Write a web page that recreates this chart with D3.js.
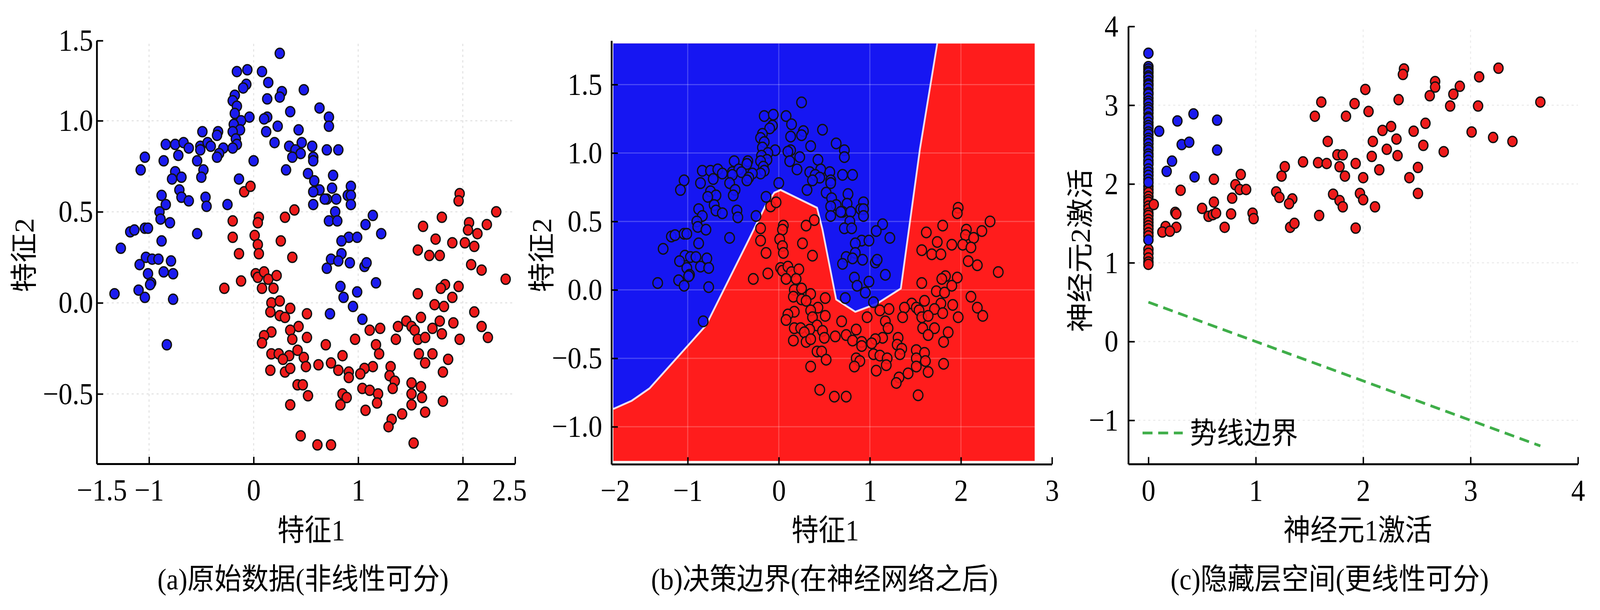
<!DOCTYPE html>
<html>
<head>
<meta charset="utf-8">
<script src="https://cdn.jsdelivr.net/npm/d3@7"></script>
<style>
  html, body { margin: 0; padding: 0; background: #fff; overflow: hidden; }
  #chart { display: block; width: 100vw; height: 100vh; }
</style>
</head>
<body>
<svg id="chart" viewBox="0 0 4498 1561" preserveAspectRatio="none"></svg>
<script>
// ---- data: two-moons input (panels a and b) ----
const moonsBlue = [
  [0.25,1.37],[-0.16,1.27],[-0.06,1.28],[0.08,1.27],[0.14,1.21],[-0.07,1.20],[-0.10,1.18],[0.48,1.17],[0.27,1.16],[0.25,1.13],
  [-0.18,1.14],[-0.20,1.11],[0.13,1.12],[-0.16,1.08],[0.35,1.05],[-0.18,1.04],[-0.04,1.02],[0.13,1.02],[0.10,1.01],[-0.12,1.00],
  [-0.19,0.98],[0.23,0.97],[0.12,0.94],[-0.13,0.95],[-0.20,0.94],[0.43,0.95],[-0.49,0.94],[-0.34,0.94],[-0.35,0.92],[0.20,0.88],
  [0.46,0.88],[-0.17,0.90],[-0.16,0.87],[-0.20,0.85],[0.34,0.86],[0.40,0.84],[0.45,0.82],[0.37,0.80],[-0.84,0.87],[-0.75,0.87],
  [-0.67,0.88],[-0.62,0.85],[-0.51,0.86],[-0.44,0.88],[-0.41,0.86],[-0.51,0.84],[-0.29,0.85],[-0.33,0.82],[-0.35,0.80],[-0.72,0.81],
  [-0.54,0.78],[-1.04,0.80],[-0.86,0.78],[0.00,0.78],[0.31,0.73],[-1.08,0.73],[-0.75,0.72],[-0.48,0.73],[-0.69,0.69],[-0.78,0.68],
  [-0.50,0.69],[-0.14,0.68],[-0.71,0.62],[-0.88,0.59],[-0.69,0.58],[-0.62,0.56],[-0.46,0.58],[-0.84,0.54],[-0.45,0.53],[-0.25,0.54],
  [-0.90,0.50],[-0.89,0.46],[-0.80,0.44],[-1.18,0.39],[-1.14,0.40],[-1.04,0.41],[-1.01,0.41],[-0.54,0.38],
  [-0.88,0.34],[-1.27,0.30],[-1.03,0.25],[-0.97,0.24],[-0.91,0.24],[-0.79,0.23],[-1.09,0.21],[-1.01,0.16],[-0.86,0.17],[-0.77,0.16],
  [-0.98,0.11],[-0.99,0.10],[-1.33,0.05],[-1.10,0.07],[-1.04,0.03],[-0.77,0.02],[-0.83,-0.23],
  [0.63,1.07],[0.72,1.02],[0.72,0.97],[0.56,0.86],[0.70,0.84],[0.81,0.84],[0.57,0.80],[0.57,0.78],[0.52,0.71],[0.76,0.70],
  [0.58,0.67],[0.63,0.62],[0.57,0.61],[0.75,0.63],[0.93,0.64],[0.70,0.57],[0.68,0.57],[0.79,0.57],[0.90,0.59],[0.93,0.59],
  [0.93,0.54],[0.57,0.54],[0.78,0.50],[0.72,0.45],[0.80,0.45],[1.14,0.48],[1.07,0.43],[1.22,0.38],
  [0.91,0.36],[0.99,0.36],[0.84,0.34],[0.84,0.27],[0.74,0.24],[0.81,0.23],[0.92,0.22],[1.06,0.20],[1.08,0.22],[0.70,0.19],
  [1.17,0.11],[0.83,0.09],[0.99,0.06],[0.86,0.03],[0.95,-0.02],[0.73,-0.06],[1.04,-0.09]
];
const moonsRed = [
  [-0.09,0.61],[-0.03,0.64],[0.39,0.51],[0.30,0.47],[-0.20,0.45],[0.05,0.47],[0.04,0.44],
  [-0.20,0.36],[0.01,0.37],[0.04,0.32],[0.05,0.27],[0.26,0.34],[-0.14,0.27],[0.37,0.25],[0.02,0.16],[0.04,0.14],[0.10,0.17],
  [0.14,0.13],[0.22,0.15],[-0.12,0.12],[-0.28,0.08],[0.08,0.08],[0.19,0.08],[0.17,0.00],[0.25,0.01],[0.35,-0.03],[0.16,-0.05],
  [0.25,-0.07],[0.30,-0.08],[0.51,-0.06],[0.43,-0.13],[0.35,-0.15],[0.17,-0.16],[0.10,-0.18],[0.51,-0.19],[0.08,-0.22],[0.37,-0.20],
  [0.42,-0.26],[0.17,-0.28],[0.24,-0.28],[0.34,-0.29],[0.28,-0.31],[0.48,-0.30],[0.50,-0.35],[0.16,-0.37],[0.30,-0.38],[0.35,-0.36],
  [0.42,-0.45],[0.47,-0.45],[0.52,-0.51],[0.35,-0.56],[0.45,-0.73],
  [1.97,0.60],[1.96,0.56],[2.32,0.50],[1.80,0.47],[2.06,0.44],[2.23,0.43],[1.62,0.42],[2.05,0.40],[2.14,0.38],
  [1.74,0.35],[1.90,0.33],[2.02,0.33],[2.11,0.31],[1.57,0.29],[1.68,0.26],[1.78,0.26],[2.08,0.21],[2.18,0.18],[2.41,0.13],
  [1.83,0.10],[1.79,0.08],[1.96,0.09],[1.57,0.05],[1.90,0.03],[1.73,-0.01],[1.82,-0.02],[2.11,-0.05],[1.60,-0.08],[1.46,-0.10],
  [1.78,-0.10],[1.91,-0.11],[1.38,-0.13],[1.51,-0.13],[1.11,-0.15],[1.21,-0.14],[1.54,-0.15],[1.71,-0.14],[2.18,-0.13],[1.80,-0.17],
  [1.57,-0.20],[1.64,-0.19],[0.97,-0.20],[1.36,-0.20],[1.97,-0.20],[2.24,-0.19],[0.69,-0.23],[1.17,-0.23],[1.20,-0.28],[1.58,-0.28],
  [1.71,-0.28],[0.85,-0.29],[1.86,-0.31],[1.64,-0.33],[0.62,-0.34],[0.74,-0.33],[1.14,-0.35],[1.06,-0.36],[1.31,-0.35],[0.81,-0.37],
  [0.91,-0.38],[1.02,-0.39],[1.81,-0.38],[0.91,-0.41],[1.30,-0.40],[1.35,-0.43],[1.51,-0.44],[1.33,-0.47],[1.60,-0.46],[1.04,-0.47],
  [1.11,-0.48],[1.19,-0.50],[0.85,-0.50],[0.89,-0.52],[0.83,-0.56],[1.51,-0.50],[1.61,-0.52],[1.81,-0.54],[1.18,-0.55],[1.51,-0.56],
  [1.07,-0.59],[1.64,-0.60],[1.42,-0.61],[1.32,-0.64],[1.29,-0.68],[1.53,-0.77],[0.61,-0.78],[0.74,-0.78]
];

// ---- decision boundary of panel b (blue above, red below) ----
const boundary = [
  [-1.97,-0.87],[-1.67,-0.81],[-1.42,-0.72],[-0.80,-0.26],[-0.35,0.34],[-0.15,0.61],[-0.05,0.71],[0.02,0.73],
  [0.42,0.60],[0.48,0.44],[0.63,-0.07],[0.84,-0.16],[1.08,-0.10],[1.34,0.01],[1.55,1.03],[1.74,1.80]
];
const fieldX = [-1.97, 2.81];
const fieldY = [-1.25, 1.80];

// ---- hidden layer activations (panel c) ----
const hiddenColumnBlue = [3.66,3.49,3.46,3.43,3.41,3.37,3.35,3.31,3.27,3.25,3.21,3.16,3.14,3.09,3.05,3.02,2.97,2.94,2.90,2.85,
  2.83,2.78,2.74,2.71,2.66,2.63,2.58,2.55,2.51,2.46,2.43,2.38,2.35,2.30,2.25,2.19,2.15,2.11,2.06,2.02,1.29];
const hiddenColumnRed = [2.27,1.97,1.93,1.89,1.84,1.80,1.77,1.72,1.68,1.63,1.60,1.55,1.51,1.47,1.43,1.38,1.34,1.17,1.12,1.06,1.01,0.98];
const hiddenBlue = [[0.10,2.67],[0.27,2.80],[0.42,2.89],[0.64,2.81],[0.31,2.50],[0.38,2.53],[0.64,2.43],[0.22,2.29],[0.17,2.16],[0.43,2.09]];
const hiddenRed = [
  [1.61,3.04],[1.55,2.86],[1.84,2.86],[1.67,2.54],[1.76,2.37],[1.81,2.37],[1.44,2.28],[1.58,2.27],[1.66,2.26],[1.78,2.22],
  [1.27,2.22],[1.24,2.10],[1.83,2.10],[0.86,2.12],[0.61,2.06],[0.81,1.99],[0.85,1.93],[0.91,1.93],[0.30,1.92],[1.19,1.90],
  [1.22,1.83],[1.34,1.81],[1.31,1.75],[1.72,1.87],[1.78,1.79],[1.81,1.71],[0.05,1.74],[0.61,1.77],[0.78,1.82],[0.50,1.69],
  [0.25,1.64],[0.26,1.62],[0.56,1.59],[0.60,1.61],[0.63,1.63],[0.77,1.62],[0.97,1.63],[0.98,1.56],[1.59,1.60],[0.16,1.46],
  [0.26,1.45],[0.13,1.39],[0.20,1.40],[0.71,1.45],[1.32,1.45],[1.36,1.50],
  [2.38,3.46],[2.37,3.39],[3.26,3.47],[3.08,3.36],[2.67,3.30],[2.67,3.23],[2.90,3.24],[2.02,3.20],[2.84,3.14],[2.62,3.12],
  [2.33,3.07],[1.92,3.02],[2.81,2.99],[3.07,2.99],[3.65,3.04],[2.05,2.92],[2.58,2.77],[2.26,2.73],[2.18,2.68],[2.47,2.67],
  [3.01,2.66],[2.31,2.57],[2.09,2.54],[3.21,2.59],[3.39,2.54],[2.56,2.49],[2.22,2.44],[2.75,2.41],[2.08,2.35],[2.32,2.36],
  [1.93,2.26],[2.51,2.21],[2.15,2.18],[2.00,2.08],[2.43,2.08],[1.97,1.88],[2.00,1.80],[2.51,1.88],[2.11,1.71],[1.93,1.44]
];
const guideX = [0, 3.65];
const guideY = [0.5, -1.325];

// ---- ticks and texts ----
const ticksAx = [-1.5, -1, 0, 1, 2, 2.5];
const ticksAy = [-0.5, 0, 0.5, 1.0, 1.5];
const ticksBx = [-2, -1, 0, 1, 2, 3];
const ticksBy = [-1.0, -0.5, 0, 0.5, 1.0, 1.5];
const ticksCx = [0, 1, 2, 3, 4];
const ticksCy = [-1, 0, 1, 2, 3, 4];
const gridAx = [-1, 0, 1, 2];
const gridAy = [-0.5, 0, 0.5, 1.0];
const gridCx = [1, 2, 3];
const gridCy = [-1, 0, 1, 2, 3];
const captions = ['(a)原始数据(非线性可分)', '(b)决策边界(在神经网络之后)', '(c)隐藏层空间(更线性可分)'];
const legendLabel = '势线边界';

const FONT = '"Liberation Serif", "Noto Sans CJK SC", serif';
const BLUE = '#1b1bef';
const RED = '#ee1b1b';

const minus = s => s.replace('-', '\u2212');
const fmtPlain = d => minus(String(d));
const fmtOne = d => minus(d.toFixed(1));

const svg = d3.select('#chart');

// scales (pixel ranges follow the reference layout)
const xA = d3.scaleLinear().domain([-1.5, 2.5]).range([272, 1448]);
const yA = d3.scaleLinear().domain([-0.884, 1.4, 1.5]).range([1187, 122.6, 104]);
const xB = d3.scaleLinear().domain([-2, -1.5, 3]).range([1719, 1805.4, 2957.4]);
const yB = d3.scaleLinear().domain([-1.274, 1.821]).range([1188, 104]);
const xC = d3.scaleLinear().domain([-0.187, 4]).range([3172, 4436]);
const yC = d3.scaleLinear().domain([-1.555, 4]).range([1187.5, 67.6]);

function drawGrid(g, x, y, xs, ys, color, dash) {
  g.selectAll(null).data(xs).enter().append('line')
    .attr('x1', d => x(d)).attr('x2', d => x(d))
    .attr('y1', y.range()[y.range().length - 1] + 8).attr('y2', y.range()[0])
    .attr('stroke', color).attr('stroke-width', 3).attr('stroke-dasharray', dash);
  g.selectAll(null).data(ys).enter().append('line')
    .attr('y1', d => y(d)).attr('y2', d => y(d))
    .attr('x1', x.range()[0]).attr('x2', x.range()[x.range().length - 1])
    .attr('stroke', color).attr('stroke-width', 3).attr('stroke-dasharray', dash);
}

function drawDots(g, pts, x, y, fill, r, opacity) {
  g.selectAll(null).data(pts).enter().append('circle')
    .attr('cx', d => x(d[0]))
    .attr('cy', d => y(d[1]))
    .attr('r', r)
    .attr('fill', fill)
    .attr('fill-opacity', opacity)
    .attr('stroke', '#111')
    .attr('stroke-width', 3.5);
}

function drawAxes(g, x, y, o) {
  const xAxis = d3.axisBottom(x).tickValues(o.xTicks).tickFormat(o.xFmt)
    .tickSizeInner(-18).tickSizeOuter(0).tickPadding(38);
  const yAxis = d3.axisLeft(y).tickValues(o.yTicks).tickFormat(o.yFmt)
    .tickSizeInner(-18).tickSizeOuter(0).tickPadding(o.yPad);
  const gx = g.append('g').attr('transform', `translate(0,${y.range()[0]})`).call(xAxis);
  const gy = g.append('g').attr('transform', `translate(${x.range()[0]},0)`).call(yAxis);
  [gx, gy].forEach(a => {
    a.attr('font-size', 78).attr('font-family', FONT);
    a.select('.domain').attr('stroke', '#000').attr('stroke-width', 5);
    a.selectAll('.tick line').attr('stroke', '#000').attr('stroke-width', 4);
    a.selectAll('.tick text').attr('fill', '#000');
  });
  gx.selectAll('.tick text').attr('dx', d => o.xShift[d] || 0);
  return gx;
}

function text(g, str, x, y, size, anchor, rotate) {
  const t = g.append('text')
    .attr('font-family', FONT)
    .attr('font-size', size)
    .attr('text-anchor', anchor)
    .attr('fill', '#000')
    .text(str);
  if (rotate) {
    t.attr('transform', `translate(${x},${y}) rotate(-90)`).attr('dy', '0.36em');
  } else {
    t.attr('x', x).attr('y', y);
  }
  return t;
}

// ---------- panel (a) ----------
const pa = svg.append('g');
drawGrid(pa, xA, yA, gridAx, gridAy, '#e4e4e4', '6,8');
drawDots(pa, moonsRed, xA, yA, RED, 13, 1);
drawDots(pa, moonsBlue, xA, yA, BLUE, 13, 1);
drawAxes(pa, xA, yA, { xTicks: ticksAx, yTicks: ticksAy, xFmt: fmtPlain, yFmt: fmtOne, yPad: 10, xShift: { '-1.5': 14, '2.5': -16 } });
text(pa, '特征1', 875, 1383, 76, 'middle');
text(pa, '特征2', 67, 653, 76, 'middle', true);
text(pa, captions[0], 852, 1508, 76, 'middle');

// ---------- panel (b) ----------
const pb = svg.append('g');
pb.append('rect')
  .attr('x', xB(fieldX[0])).attr('y', yB(fieldY[1]))
  .attr('width', xB(fieldX[1]) - xB(fieldX[0]))
  .attr('height', yB(fieldY[0]) - yB(fieldY[1]))
  .attr('fill', '#ff1c1c');
const blueRegion = [[fieldX[0], fieldY[1]]].concat(boundary);
pb.append('path')
  .attr('d', d3.line().x(d => xB(d[0])).y(d => yB(d[1]))(blueRegion) + 'Z')
  .attr('fill', '#1616f2');
pb.append('path')
  .attr('d', d3.line().x(d => xB(d[0])).y(d => yB(d[1]))(boundary))
  .attr('fill', 'none')
  .attr('stroke', '#fff')
  .attr('stroke-opacity', 0.85)
  .attr('stroke-width', 5)
  .attr('stroke-linejoin', 'round');
const gridB = pb.append('g');
gridB.selectAll(null).data(ticksBx.filter(d => d > fieldX[0] && d < fieldX[1])).enter().append('line')
  .attr('x1', d => xB(d)).attr('x2', d => xB(d))
  .attr('y1', yB(fieldY[1])).attr('y2', yB(fieldY[0]))
  .attr('stroke', '#fff').attr('stroke-opacity', 0.22).attr('stroke-width', 3);
gridB.selectAll(null).data(ticksBy).enter().append('line')
  .attr('y1', d => yB(d)).attr('y2', d => yB(d))
  .attr('x1', xB(fieldX[0])).attr('x2', xB(fieldX[1]))
  .attr('stroke', '#fff').attr('stroke-opacity', 0.22).attr('stroke-width', 3);
drawDots(pb, moonsRed, xB, yB, '#ff1a1a', 13.5, 0.85);
drawDots(pb, moonsBlue, xB, yB, '#1515f5', 13.5, 0.85);
drawAxes(pb, xB, yB, { xTicks: ticksBx, yTicks: ticksBy, xFmt: fmtPlain, yFmt: fmtOne, yPad: 26, xShift: { '-2': 10 } });
text(pb, '特征1', 2320, 1383, 76, 'middle');
text(pb, '特征2', 1522, 653, 76, 'middle', true);
text(pb, captions[1], 2318, 1508, 76, 'middle');

// ---------- panel (c) ----------
const pc = svg.append('g');
drawGrid(pc, xC, yC, gridCx, gridCy, '#ececec', '6,8');
pc.append('path')
  .attr('d', d3.line().x(d => xC(d[0])).y(d => yC(d[1]))(d3.zip(guideX, guideY)))
  .attr('fill', 'none')
  .attr('stroke', '#3fae49')
  .attr('stroke-width', 7)
  .attr('stroke-dasharray', '28,16');
drawDots(pc, hiddenColumnRed.map(v => [0, v]), xC, yC, RED, 13, 1);
drawDots(pc, hiddenRed, xC, yC, RED, 13, 1);
drawDots(pc, hiddenColumnBlue.map(v => [0, v]), xC, yC, BLUE, 13, 1);
drawDots(pc, hiddenBlue, xC, yC, BLUE, 13, 1);
drawAxes(pc, xC, yC, { xTicks: ticksCx, yTicks: ticksCy, xFmt: fmtPlain, yFmt: fmtPlain, yPad: 28, xShift: {} });
text(pc, '神经元1激活', 3817, 1383, 76, 'middle');
text(pc, '神经元2激活', 3036, 641, 76, 'middle', true);
text(pc, captions[2], 3738, 1508, 76, 'middle');

// legend
const lg = pc.append('g');
lg.append('line')
  .attr('x1', 3212).attr('x2', 3325)
  .attr('y1', 1108).attr('y2', 1108)
  .attr('stroke', '#3fae49').attr('stroke-width', 7).attr('stroke-dasharray', '28,16');
text(lg, legendLabel, 3345, 1108, 76, 'start').attr('dy', '0.36em');
</script>
</body>
</html>
